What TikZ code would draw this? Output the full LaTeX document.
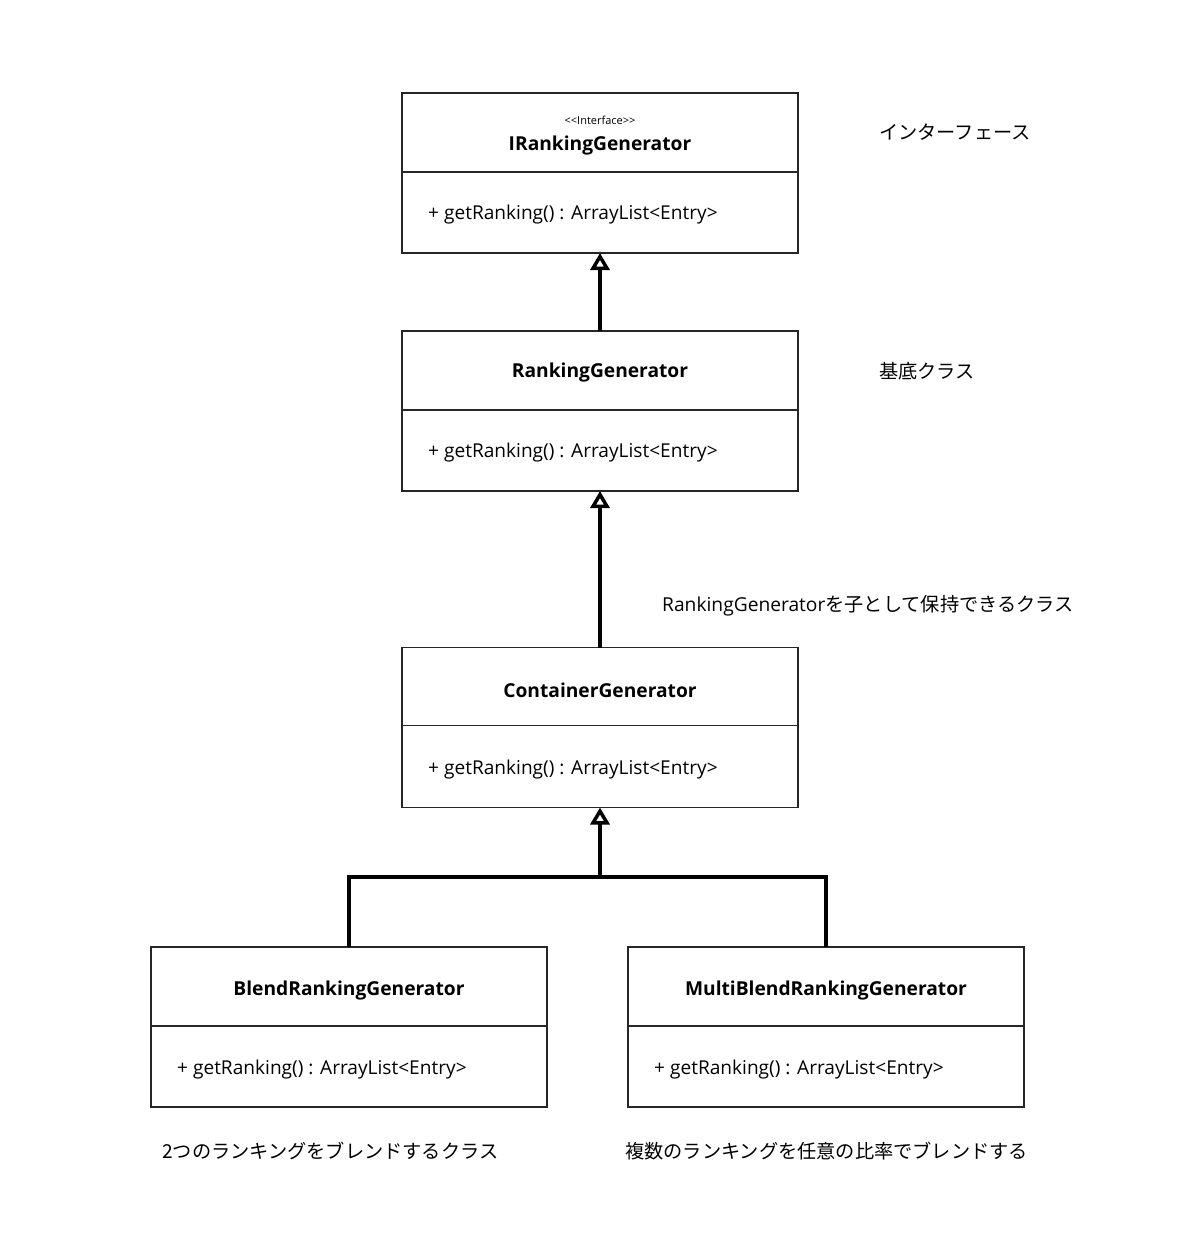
\documentclass[tikz,border=0pt]{standalone}
\usepackage{fontspec}
\setmainfont{Open Sans}
\newfontfamily\cjk{Noto Sans CJK JP}
\usetikzlibrary{arrows.meta,calc}
\begin{document}
\begin{tikzpicture}[x=1pt,y=-1pt,
  cls/.style={draw=black!85,line width=1.8pt,minimum width=396pt,minimum height=160pt,inner sep=0pt,outer sep=0pt},
  title/.style={font=\fontsize{19.2}{22}\selectfont\bfseries,inner sep=0pt,anchor=center},
  stereo/.style={font=\fontsize{11}{13}\selectfont,inner sep=0pt,anchor=center},
  member/.style={font=\fontsize{19.1}{22}\selectfont,inner sep=0pt,anchor=west},
  note/.style={font=\cjk\fontsize{19.2}{22}\selectfont,inner sep=0pt,anchor=west},
  inherit/.style={line width=4pt,-{Triangle[open,length=17pt,width=19pt,line width=3.5pt]}},
  link/.style={line width=4pt}]
\useasboundingbox (0,0) rectangle (1200,1259);
\fill[white] (0,0) rectangle (1200,1259);

% classes
\node[cls] (irg) at (600,173) {};
\draw[black!85,line width=1.8pt] ($(irg.north west)+(0,79)$) -- ($(irg.north east)+(0,79)$);
\node[stereo] (irgs) at (600,120) {{<}{<}Interface{>}{>}};
\node[title] (irgt) at (600,146) {IRankingGenerator};
\node[member] (irgm) at (428,215) {+ getRanking() : ArrayList{<}Entry{>}};

\node[cls] (rg) at (600,411) {};
\draw[black!85,line width=1.8pt] ($(rg.north west)+(0,79)$) -- ($(rg.north east)+(0,79)$);
\node[title] (rgt) at (600,373) {RankingGenerator};
\node[member] (rgm) at (428,453) {+ getRanking() : ArrayList{<}Entry{>}};

\node[cls] (cg) at (600,727.5) {};
\draw[black!85,line width=1.8pt] ($(cg.north west)+(0,78)$) -- ($(cg.north east)+(0,78)$);
\node[title] (cgt) at (600,690) {ContainerGenerator};
\node[member] (cgm) at (428,770) {+ getRanking() : ArrayList{<}Entry{>}};

\node[cls] (brg) at (349,1027) {};
\draw[black!85,line width=1.8pt] ($(brg.north west)+(0,79)$) -- ($(brg.north east)+(0,79)$);
\node[title] (brgt) at (349,990) {BlendRankingGenerator};
\node[member] (brgm) at (177,1070) {+ getRanking() : ArrayList{<}Entry{>}};

\node[cls] (mbrg) at (826,1027) {};
\draw[black!85,line width=1.8pt] ($(mbrg.north west)+(0,79)$) -- ($(mbrg.north east)+(0,79)$);
\node[title] (mbrgt) at (826,990) {MultiBlendRankingGenerator};
\node[member] (mbrgm) at (654,1070) {+ getRanking() : ArrayList{<}Entry{>}};

% notes
\node[note] (n1) at (879,132) {インターフェース};
\node[note] (n2) at (879,371) {基底クラス};
\node[note] (n3) at (662,606) {{\fontspec{Open Sans}RankingGenerator}を子として保持できるクラス};
\node[note] (n4) at (162,1151) {2つのランキングをブレンドするクラス};
\node[note] (n5) at (625,1151) {複数のランキングを任意の比率でブレンドする};

% connectors
\draw[inherit] (rg.north) -- (irg.south);
\draw[inherit] (cg.north) -- (rg.south);
\coordinate (j) at (600,877);
\draw[link] (brg.north) |- (j) -| (mbrg.north);
\draw[inherit] (j) -- (cg.south);
\end{tikzpicture}
\end{document}
